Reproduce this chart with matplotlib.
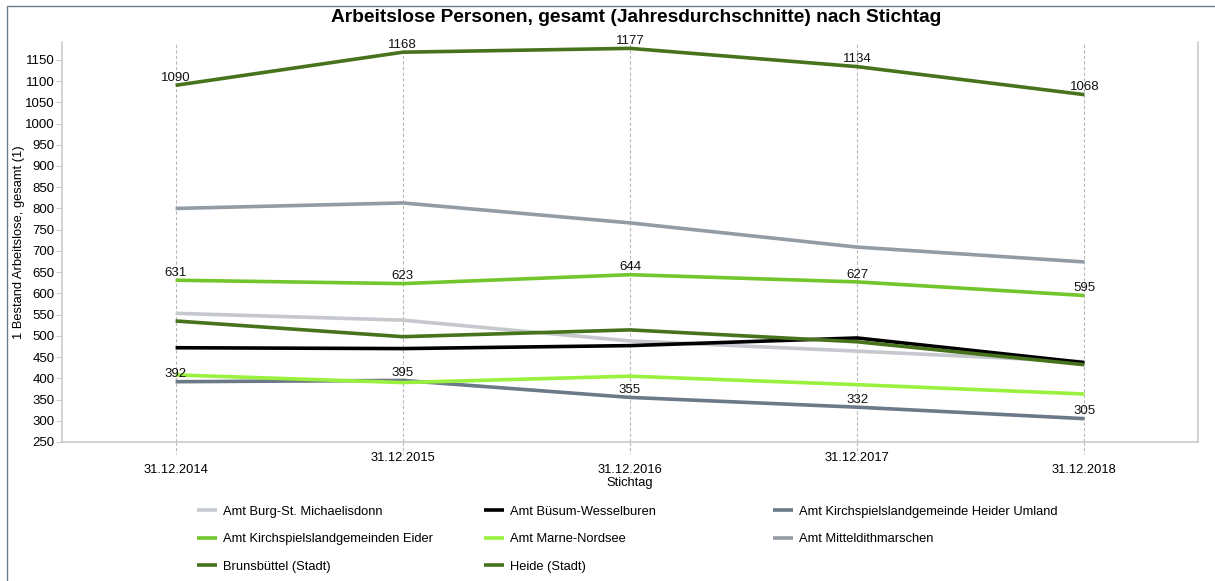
import matplotlib
matplotlib.use("Agg")
import matplotlib.pyplot as plt
from matplotlib.patches import Rectangle

plt.rcParams['font.family'] = ['Liberation Sans', 'DejaVu Sans']

categories = ["31.12.2014", "31.12.2015", "31.12.2016", "31.12.2017", "31.12.2018"]

burg = [553, 537, 488, 464, 439]
buesum = [472, 470, 477, 495, 437]
heider_umland = [392, 395, 355, 332, 305]
eider = [631, 623, 644, 627, 595]
marne = [408, 390, 405, 385, 363]
mittel = [800, 813, 766, 709, 674]
brunsbuettel = [535, 498, 514, 486, 432]
heide = [1090, 1168, 1177, 1134, 1068]

series = [
    ("Amt Burg-St. Michaelisdonn", burg, "#c5c9ce", False),
    ("Amt Büsum-Wesselburen", buesum, "#000000", False),
    ("Amt Kirchspielslandgemeinde Heider Umland", heider_umland, "#6c7986", True),
    ("Amt Kirchspielslandgemeinden Eider", eider, "#72c52b", True),
    ("Amt Marne-Nordsee", marne, "#99f03d", False),
    ("Amt Mitteldithmarschen", mittel, "#939ca5", False),
    ("Brunsbüttel (Stadt)", brunsbuettel, "#47731c", False),
    ("Heide (Stadt)", heide, "#47731c", True),
]

W, H = 1215, 581
fig = plt.figure(figsize=(W / 100, H / 100), dpi=100)
ax = fig.add_axes([62 / W, 1 - 442 / H, (1198 - 62) / W, (442 - 42) / H])

x = list(range(len(categories)))
handles = []
for name, vals, color, labelled in series:
    h, = ax.plot(x, vals, color=color, lw=2.6, label=name, solid_capstyle='butt', zorder=3)
    handles.append(h)
    if labelled:
        for xi, v in zip(x, vals):
            ax.text(xi, v + 3, str(v), ha='center', va='bottom', fontsize=9.5, color='#111111', zorder=4)

ax.set_xlim(-0.5, 4.5)
ax.set_ylim(250, 1192)
ax.set_yticks(range(250, 1151, 50))
ax.set_xticks(x)
ax.set_xticklabels(categories)
for i, lbl in enumerate(ax.get_xticklabels()):
    lbl.set_y(-0.03 if i % 2 == 0 else 0.0)
ax.tick_params(axis='x', length=0, pad=7, labelsize=9.3)
ax.tick_params(axis='y', length=4, color='#c8ccd0', labelsize=9.5, pad=1.5)
for xi in x:
    ax.plot([xi, xi], [250, 1192], color='#b8b8b8', lw=0.8, ls=(0, (3, 2)), zorder=1)
    ax.plot([xi, xi], [250, 250 - 12 / 0.4244], color='#b8b8b8', lw=0.8, ls=(0, (3, 2)),
            zorder=1, clip_on=False)

ax.spines['top'].set_visible(False)
for s in ['left', 'bottom', 'right']:
    ax.spines[s].set_color('#c8ccd0')
    ax.spines[s].set_linewidth(1.2)

ax.set_xlabel("Stichtag", fontsize=9.3)
ax.xaxis.set_label_coords(0.5, -0.088)
ax.set_ylabel("1 Bestand Arbeitslose, gesamt (1)", fontsize=9.3)
ax.yaxis.set_label_coords(-37 / (1198 - 62), 0.5)

fig.text(636 / W, 1 - 18 / H, "Arbeitslose Personen, gesamt (Jahresdurchschnitte) nach Stichtag",
         ha='center', va='center', fontsize=13.8, fontweight='bold')

cols = [[0, 3, 6], [1, 4, 7], [2, 5]]
col_x = [193, 480, 769]
for cx, idxs in zip(col_x, cols):
    leg = fig.legend(handles=[handles[i] for i in idxs], loc='upper left',
                     bbox_to_anchor=(cx / W, 1 - 502 / H), ncol=1, frameon=False,
                     fontsize=9.3, handlelength=1.55, handletextpad=0.45,
                     labelspacing=1.2, borderaxespad=0, borderpad=0.3)

fig.patches.append(Rectangle((7 / W, -0.1), 1.2, 1 - 6 / H + 0.1, transform=fig.transFigure,
                             fill=False, edgecolor='#6e7f8e', lw=1.0, zorder=0))

fig.savefig("out.png", dpi=100)
